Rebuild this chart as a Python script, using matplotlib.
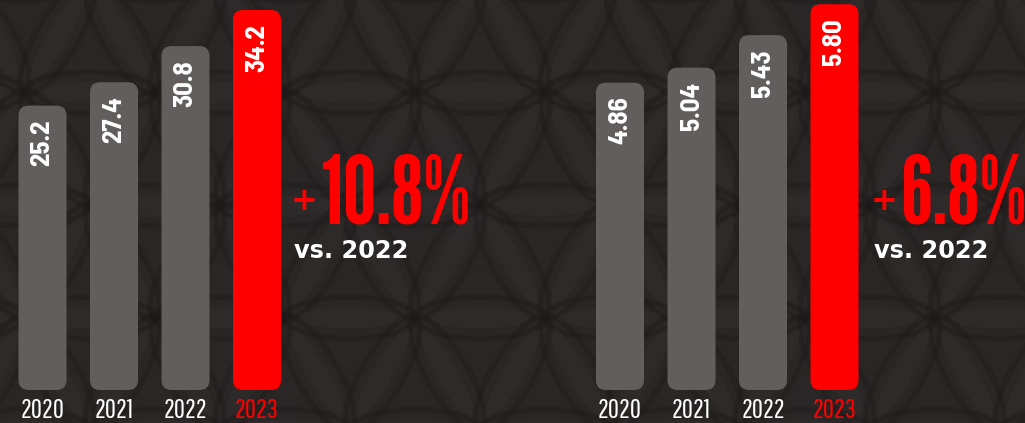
import numpy as np
import matplotlib.pyplot as plt
from matplotlib.patches import FancyBboxPatch, Ellipse

# Donnees des deux graphiques
annees = ["2020", "2021", "2022", "2023"]
valeurs_gauche = [25.2, 27.4, 30.8, 34.2]
etiquettes_gauche = ["25.2", "27.4", "30.8", "34.2"]
valeurs_droite = [4.86, 5.04, 5.43, 5.80]
etiquettes_droite = ["4.86", "5.04", "5.43", "5.80"]
hausse_gauche = "10.8%"
hausse_droite = "6.8%"
reference = "vs. 2022"

# Couleurs
fond = "#292625"
gris = "#615e5d"
rouge = "#ff0000"
blanc = "#ffffff"

L, H = 1025, 423
fig = plt.figure(figsize=(L / 100, H / 100), dpi=100)
fig.patch.set_facecolor(fond)

# Fond texture : petales en fleur de vie, tres peu contrastes
ax_fond = fig.add_axes([0, 0, 1, 1], zorder=-10)
ax_fond.set_xlim(0, L)
ax_fond.set_ylim(H, 0)
ax_fond.set_axis_off()
ax_fond.set_facecolor(fond)
s = 130
for j in range(-1, int(H / (s * 0.866)) + 2):
    for i in range(-1, int(L / s) + 2):
        x0 = i * s + (j % 2) * s / 2 - 40
        y0 = j * s * 0.866 - 20
        for ang in [0, 60, 120]:
            a = np.radians(ang)
            cx, cy = x0 + np.cos(a) * s / 2, y0 + np.sin(a) * s / 2
            ax_fond.add_patch(Ellipse((cx, cy), s * 1.02, s * 0.32, angle=ang,
                                      fc="none", ec="#1c1918", lw=4, alpha=0.35))
            ax_fond.add_patch(Ellipse((cx, cy), s * 0.8, s * 0.16, angle=ang,
                                      fc="#34302f", ec="none", alpha=0.45))

police_valeur = dict(family=["Barlow Semi Condensed", "DejaVu Sans"], weight="bold", size=19.5)
police_annee = dict(family=["Pathway Gothic One", "DejaVu Sans"], size=19.5)
police_hausse = dict(family=["League Gothic", "DejaVu Sans"], size=68)
police_plus = dict(family="DejaVu Sans", weight="bold", size=23)
police_ref = dict(family="DejaVu Sans", weight="bold", size=17.3)


def tracer_panneau(gauche_px, centre0_px, base, echelle, valeurs, etiquettes, hausse, x_texte):
    # axe en pixels : bas des barres a y=390, haut de l'image a y=0
    largeur_px = 300
    ax = fig.add_axes([gauche_px / L, (H - 390) / H, largeur_px / L, 390 / H])
    pas = 71.5
    xmin = (gauche_px - centre0_px) / pas
    ax.set_xlim(xmin, xmin + largeur_px / pas)
    ax.set_ylim(base, base + 390 / echelle)
    ax.set_axis_off()
    ax.patch.set_alpha(0)

    largeur_barre = 48 / pas
    rayon_px = 10
    for i, v in enumerate(valeurs):
        couleur = rouge if i == len(valeurs) - 1 else gris
        # aspect pour garder des coins ronds circulaires
        aspect = (1 / echelle) / (1 / pas)
        barre = FancyBboxPatch((i - largeur_barre / 2, base), largeur_barre, v - base,
                               boxstyle="round,pad=0,rounding_size=%f" % (rayon_px / pas),
                               mutation_aspect=aspect, fc=couleur, ec="none", clip_on=False)
        ax.add_patch(barre)
        ax.annotate(etiquettes[i], xy=(i, v), xytext=(0, -14), textcoords="offset pixels",
                    rotation=90, ha="center", va="top", color=blanc, **police_valeur)
        ax.annotate(annees[i], xy=(i, 5), xycoords=("data", "figure pixels"),
                    ha="center", va="baseline", color=couleur if i == 3 else blanc,
                    **police_annee)

    # hausse : "+" plus petit devant le pourcentage
    fig.text((x_texte - 3) / L, (H - 201) / H, "+", ha="left", va="center",
             color=rouge, **police_plus)
    fig.text((x_texte + 26) / L, (H - 223) / H, hausse, ha="left", va="baseline",
             color=rouge, **police_hausse)
    fig.text(x_texte / L, (H - 258) / H, reference, ha="left", va="baseline",
             color=blanc, **police_ref)


tracer_panneau(0, 42.5, -1.55, 10.63, valeurs_gauche, etiquettes_gauche, hausse_gauche, 294)
tracer_panneau(580, 620, 1.18, 83.5, valeurs_droite, etiquettes_droite, hausse_droite, 874)

fig.savefig("out.png", dpi=100, facecolor=fond)
